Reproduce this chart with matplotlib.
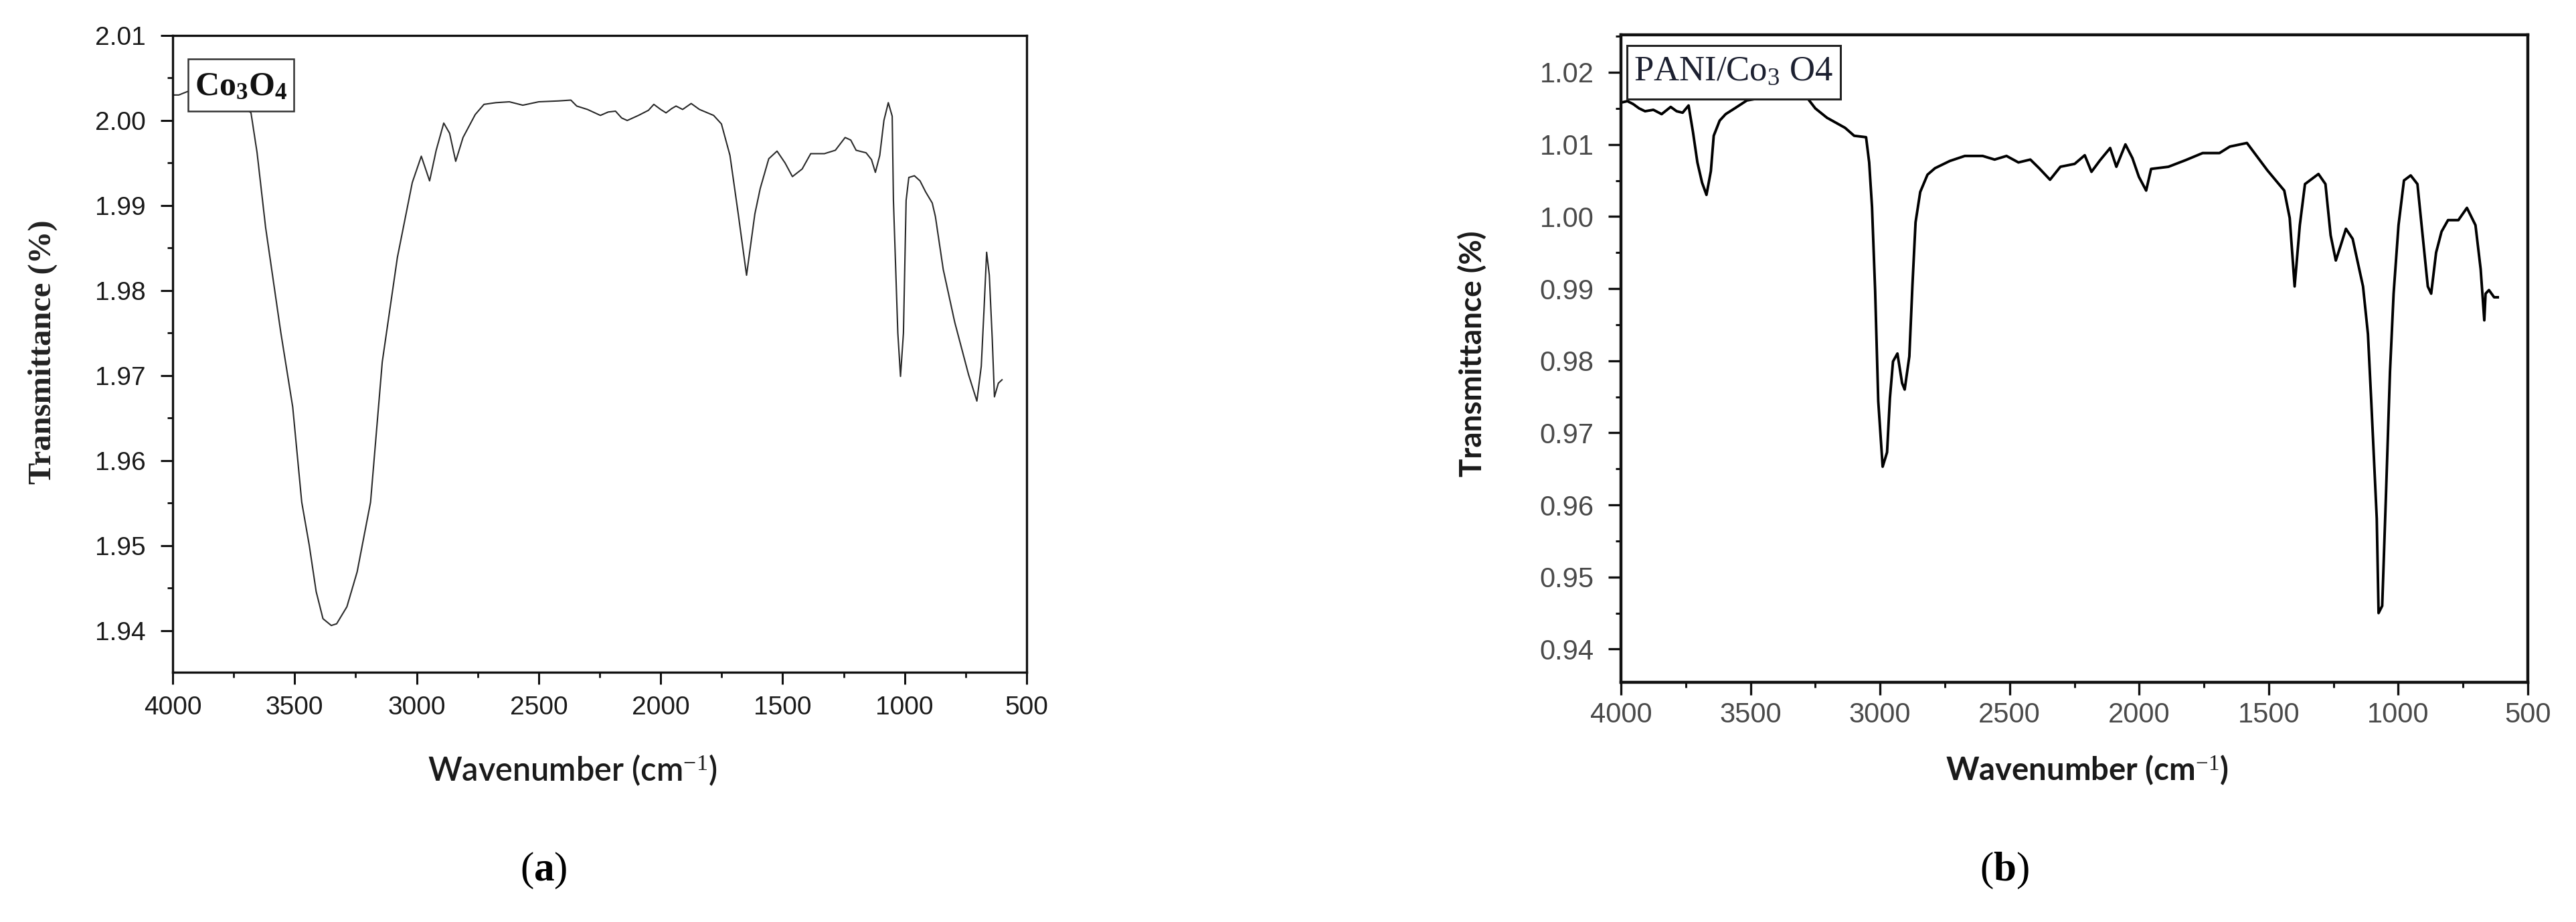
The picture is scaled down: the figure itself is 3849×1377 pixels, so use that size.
import matplotlib
matplotlib.use("Agg")
import matplotlib.pyplot as plt
from matplotlib.patches import Rectangle
from matplotlib.ticker import MultipleLocator, FormatStrFormatter

plt.rcParams['mathtext.fontset'] = 'custom'
plt.rcParams['mathtext.rm'] = 'Liberation Serif'
plt.rcParams['mathtext.bf'] = 'Liberation Serif:bold'
plt.rcParams['mathtext.it'] = 'Liberation Serif:italic'

# ---------------- data: panel (a) Co3O4 ----------------
wn_a = [4000, 3975, 3940, 3900, 3850, 3800, 3750, 3700, 3679, 3654, 3619, 3557, 3508,
        3471, 3440, 3412, 3384, 3350, 3328, 3286, 3244, 3189, 3141, 3079, 3018, 2981,
        2947, 2920, 2889, 2865, 2840, 2810, 2760, 2724, 2675, 2620, 2565, 2500, 2420,
        2368, 2344, 2300, 2247, 2215, 2185, 2160, 2137, 2091, 2050, 2028, 2000, 1978,
        1955, 1937, 1910, 1875, 1841, 1783, 1751, 1716, 1682, 1648, 1614, 1592, 1557,
        1523, 1490, 1460, 1420, 1385, 1329, 1284, 1244, 1221, 1199, 1158, 1136, 1120,
        1102, 1085, 1067, 1051, 1046, 1028, 1017, 1005, 994, 983, 960, 937, 914, 887,
        874, 842, 795, 738, 704, 686, 675, 664, 653, 641, 632, 616, 601]
tr_a = [2.0030, 2.0030, 2.0034, 2.0035, 2.0034, 2.0030, 2.0024, 2.0014, 2.0009, 1.9962,
        1.9874, 1.9751, 1.9663, 1.9551, 1.9500, 1.9446, 1.9414, 1.9406, 1.9408, 1.9428,
        1.9469, 1.9551, 1.9716, 1.9839, 1.9927, 1.9958, 1.9929, 1.9965, 1.9997, 1.9985,
        1.9952, 1.9980, 2.0007, 2.0019, 2.0021, 2.0022, 2.0018, 2.0022, 2.0023, 2.0024,
        2.0017, 2.0013, 2.0006, 2.0010, 2.0011, 2.0003, 2.0000, 2.0006, 2.0012, 2.0019,
        2.0013, 2.0009, 2.0014, 2.0017, 2.0013, 2.0020, 2.0013, 2.0006, 1.9996, 1.9959,
        1.9890, 1.9818, 1.9890, 1.9920, 1.9955, 1.9964, 1.9950, 1.9934, 1.9943, 1.9961,
        1.9961, 1.9965, 1.9980, 1.9977, 1.9965, 1.9962, 1.9954, 1.9939, 1.9959, 2.0000,
        2.0021, 2.0005, 1.9906, 1.9750, 1.9699, 1.9750, 1.9906, 1.9933, 1.9935, 1.9929,
        1.9916, 1.9903, 1.9887, 1.9825, 1.9763, 1.9701, 1.9670, 1.9711, 1.9776, 1.9845,
        1.9818, 1.9743, 1.9675, 1.9691, 1.9695]

# ---------------- data: panel (b) PANI/Co3O4 ----------------
wn_b = [4000, 3975, 3953, 3930, 3907, 3875, 3843, 3808, 3785, 3762, 3739, 3722, 3705,
        3687, 3670, 3653, 3642, 3619, 3596, 3561, 3514, 3450, 3350, 3280, 3250, 3205,
        3135, 3100, 3054, 3042, 3031, 3019, 3007, 2990, 2973, 2962, 2950, 2933, 2915,
        2905, 2887, 2875, 2863, 2845, 2817, 2788, 2731, 2673, 2604, 2558, 2512, 2466,
        2420, 2386, 2344, 2304, 2249, 2210, 2184, 2151, 2112, 2088, 2053, 2026, 2001,
        1973, 1954, 1887, 1822, 1755, 1690, 1650, 1584, 1505, 1440, 1419, 1400, 1380,
        1360, 1308, 1281, 1261, 1241, 1222, 1202, 1176, 1136, 1117, 1104, 1083, 1076,
        1062, 1047, 1032, 1018, 999, 978, 952, 926, 906, 886, 873, 854, 833, 808, 768,
        735, 702, 682, 668, 663, 650, 630, 616]
tr_b = [1.0158, 1.0160, 1.0156, 1.0150, 1.0146, 1.0148, 1.0142, 1.0152, 1.0146, 1.0144,
        1.0154, 1.0117, 1.0075, 1.0047, 1.0030, 1.0063, 1.0112, 1.0133, 1.0142, 1.0150,
        1.0161, 1.0165, 1.0168, 1.0164, 1.0150, 1.0137, 1.0123, 1.0112, 1.0110, 1.0075,
        1.0013, 0.9897, 0.9744, 0.9653, 0.9673, 0.9748, 0.9799, 0.9810, 0.9769, 0.9760,
        0.9806, 0.9905, 0.9992, 1.0034, 1.0058, 1.0067, 1.0077, 1.0084, 1.0084, 1.0079,
        1.0084, 1.0075, 1.0079, 1.0067, 1.0051, 1.0069, 1.0073, 1.0085, 1.0062, 1.0078,
        1.0095, 1.0069, 1.0100, 1.0081, 1.0055, 1.0036, 1.0066, 1.0069, 1.0078, 1.0088,
        1.0088, 1.0097, 1.0102, 1.0064, 1.0036, 0.9998, 0.9903, 0.9988, 1.0045, 1.0059,
        1.0045, 0.9974, 0.9939, 0.9960, 0.9983, 0.9969, 0.9903, 0.9837, 0.9742, 0.9581,
        0.9450, 0.9460, 0.9619, 0.9784, 0.9893, 0.9988, 1.0050, 1.0057, 1.0045, 0.9974,
        0.9903, 0.9893, 0.9950, 0.9979, 0.9995, 0.9995, 1.0012, 0.9988, 0.9927, 0.9856,
        0.9893, 0.9898, 0.9888, 0.9888]

xticks = [4000, 3500, 3000, 2500, 2000, 1500, 1000, 500]
xlabel = "Wavenumber (cm$^{-1}$)"
ylabel = "Transmittance (%)"

W, H = 3849, 1377
fig = plt.figure(figsize=(W / 100, H / 100), dpi=100)
fig.patch.set_facecolor("white")

def frac(x0, y0, x1, y1):
    return [x0 / W, 1 - y1 / H, (x1 - x0) / W, (y1 - y0) / H]

# ---------------- panel (a) ----------------
ax1 = fig.add_axes(frac(258, 53, 1534, 1004))
ax1.plot(wn_a, tr_a, color="#2a2a2a", lw=1.5, zorder=2)
ax1.set_xlim(4000, 500)
ax1.set_ylim(1.9351, 2.01)
ax1.set_xticks(xticks)
ax1.xaxis.set_minor_locator(MultipleLocator(250))
ax1.yaxis.set_major_locator(MultipleLocator(0.01))
ax1.yaxis.set_minor_locator(MultipleLocator(0.005))
ax1.yaxis.set_major_formatter(FormatStrFormatter("%.2f"))
for s in ax1.spines.values():
    s.set_linewidth(2.4)
    s.set_color("#111111")
ax1.tick_params(which="major", direction="out", length=13, width=2.2,
                labelsize=28, pad=12, colors="#111111")
ax1.tick_params(which="minor", direction="out", length=6, width=2.0, colors="#111111")
ax1.tick_params(axis="y", which="major", pad=16)
for lab in ax1.get_xticklabels() + ax1.get_yticklabels():
    lab.set_fontfamily("Liberation Sans")
    lab.set_color("#1a1a1a")

ax1.add_patch(Rectangle((0.018, 0.8812), 0.1238, 0.082, transform=ax1.transAxes,
                        facecolor="white", edgecolor="#333333", lw=1.8, zorder=5))
ax1.text(0.080, 0.9215, r"$\mathbf{Co}_{\mathbf{3}}\mathbf{O}_{\mathbf{4}}$",
         transform=ax1.transAxes, ha="center", va="center", fontsize=36,
         color="#111111", zorder=6)

# ---------------- panel (b) ----------------
ax2 = fig.add_axes(frac(2422, 52, 3777, 1019))
ax2.plot(wn_b, tr_b, color="black", lw=2.8, zorder=2)
ax2.set_xlim(4000, 500)
ax2.set_ylim(0.9354, 1.0252)
ax2.set_xticks(xticks)
ax2.xaxis.set_minor_locator(MultipleLocator(250))
ax2.yaxis.set_major_locator(MultipleLocator(0.01))
ax2.yaxis.set_minor_locator(MultipleLocator(0.005))
ax2.yaxis.set_major_formatter(FormatStrFormatter("%.2f"))
for s in ax2.spines.values():
    s.set_linewidth(3.2)
    s.set_color("#111111")
ax2.tick_params(which="major", direction="out", length=14, width=2.4,
                labelsize=30, pad=7, colors="#111111")
ax2.tick_params(which="minor", direction="out", length=6, width=2.2, colors="#111111")
ax2.tick_params(axis="y", which="major", pad=15)
for lab in ax2.get_xticklabels() + ax2.get_yticklabels():
    lab.set_fontfamily("Liberation Sans")
    lab.set_color("#4a4a4a")

ax2.add_patch(Rectangle((0.0066, 0.9007), 0.2355, 0.0828, transform=ax2.transAxes,
                        facecolor="white", edgecolor="#222222", lw=2.2, zorder=5))
ax2.text(0.124, 0.943, r"PANI/Co$_{\mathrm{3}}$ O4", transform=ax2.transAxes,
         ha="center", va="center", fontsize=38, family="Liberation Serif",
         color="#1c2030", zorder=6)

# ---------------- axis labels & panel captions ----------------
fig.text(64 / W, 1 - 526 / H, ylabel, rotation=90, ha="center", va="center",
         fontsize=35, fontweight="bold", family="Liberation Serif", color="#222222")
fig.text(2200 / W, 1 - 528 / H, ylabel, rotation=90, ha="center", va="center",
         fontsize=33, fontweight="bold", family="Lato", color="#1a1a1a")
fig.text(855 / W, 1 - 1150 / H, xlabel, ha="center", va="center",
         fontsize=35, fontweight="semibold", family="Lato", color="#1a1a1a")
fig.text(3118 / W, 1 - 1150 / H, xlabel, ha="center", va="center",
         fontsize=34, fontweight="bold", family="Lato", color="#1a1a1a")
fig.text(812 / W, 1 - 1300 / H, r"($\mathbf{a}$)", ha="center", va="center",
         fontsize=44, family="Liberation Serif", color="black")
fig.text(2995 / W, 1 - 1300 / H, r"($\mathbf{b}$)", ha="center", va="center",
         fontsize=44, family="Liberation Serif", color="black")

fig.savefig("out.png", dpi=100, facecolor="white")
